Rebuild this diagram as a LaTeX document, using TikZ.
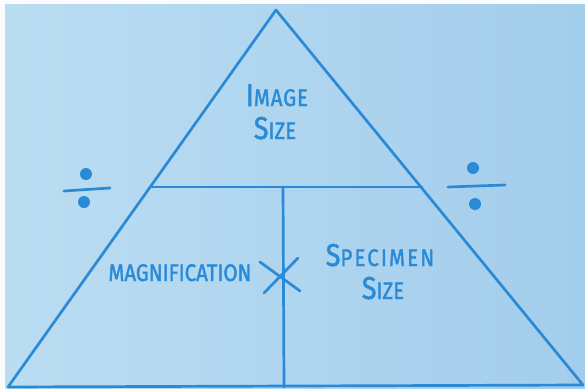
\documentclass[tikz,border=0pt]{standalone}
\usepackage{fontspec}
\setmainfont{Fira Sans}[FakeBold=1.6,FakeStretch=0.85]
\usetikzlibrary{positioning,calc}
\definecolor{board}{HTML}{BBDDF2}
\definecolor{boardr}{HTML}{A3CDEC}
\definecolor{pen}{HTML}{2A8AD6}
\newcommand{\Lead}[1]{{\fontsize{27}{27}\selectfont #1}}

\begin{document}
\begin{tikzpicture}[x=0.03cm,y=-0.03cm,
  pen line/.style={draw=pen, line width=2.3pt, line cap=round, line join=round},
  label text/.style={text=pen, font=\fontsize{20.5}{22}\selectfont, inner sep=0pt, anchor=base}]
% board
\fill[white!92!board] (0,0) rectangle (585,388);
\shade[left color=board, right color=boardr] (5,4) rectangle (585,388);
\useasboundingbox (0,0) rectangle (585,388);

% triangle
\coordinate (top) at (276,10);
\coordinate (bl) at (8,387);
\coordinate (br) at (583,385);
\coordinate (ml) at (150,187);
\coordinate (mr) at (422,187);
\coordinate (mid) at (283,187);
\coordinate (midb) at (284,387);
\draw[pen line] (bl) -- (top) -- (br) -- cycle;
\draw[pen line] (ml) -- (mr);
\draw[pen line] (mid) -- (midb);

% words
\node[label text] (image) at (277,106) {\addfontfeature{LetterSpace=4}\Lead{I}MAGE};
\node[label text] (isize) at (275,139) {\Lead{S}IZE};
\node[label text] (magn) at (180,281) {MAGNIFICATION};
\node[label text] (spec) at (380,266) {\addfontfeature{LetterSpace=9}\Lead{S}PECIMEN};
\node[label text] (ssize) at (383,299) {\Lead{S}IZE};

% times
\coordinate (times) at (280,275);
\draw[pen line] (260,262) -- (300,291);
\draw[pen line] (298,258) -- (264,293);

% divide, left and right
\draw[pen line] (64,191) -- (110,188);
\fill[pen] (86,174) circle[radius=0.18cm];
\fill[pen] (84,202) circle[radius=0.18cm];
\draw[pen line] (448,187) -- (505,185);
\fill[pen] (473,168) circle[radius=0.18cm];
\fill[pen] (475,204) circle[radius=0.18cm];
\end{tikzpicture}
\end{document}
